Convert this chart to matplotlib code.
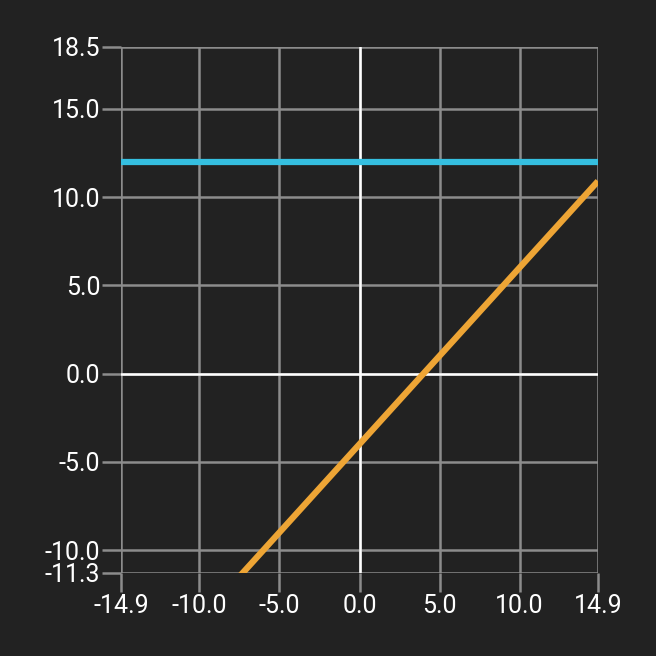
import matplotlib
matplotlib.use("Agg")
import matplotlib.pyplot as plt

# data
x_ticks = [-14.9, -10.0, -5.0, 0.0, 5.0, 10.0, 14.9]
y_ticks = [-11.3, -10.0, -5.0, 0.0, 5.0, 10.0, 15.0, 18.5]
blue_x = [-14.9, 14.9]
blue_y = [12.0, 12.0]
orange_x = [-14.9, 14.9]
orange_y = [-18.9, 10.9]

bg = "#222222"
grid_col = "#8c8c8c"

plt.rcParams['font.family'] = ['Roboto', 'DejaVu Sans']

fig = plt.figure(figsize=(6.56, 6.56), dpi=100, facecolor=bg)
ax = fig.add_axes([121/656, 83/656, 477/656, 526/656])
ax.set_facecolor(bg)

ax.set_xlim(-14.9, 14.9)
ax.set_ylim(-11.3, 18.5)
ax.set_xticks(x_ticks)
ax.set_yticks(y_ticks)
ax.set_xticklabels(["%.1f" % v for v in x_ticks])
ax.set_yticklabels(["%.1f" % v for v in y_ticks])

ax.grid(True, color=grid_col, linewidth=1.8, zorder=1)
for s in ax.spines.values():
    s.set_visible(False)
ax.tick_params(axis='both', colors=grid_col, width=1.8, length=14,
               labelcolor="white", labelsize=18, pad=1)

# zero axes in white
ax.axhline(0, color="white", linewidth=1.8, zorder=2)
ax.axvline(0, color="white", linewidth=1.8, zorder=2)

ax.plot(blue_x, blue_y, color="#35bfe0", linewidth=4.5, solid_capstyle='butt', zorder=3)
ax.plot(orange_x, orange_y, color="#eea535", linewidth=4.5, solid_capstyle='butt', zorder=3)

fig.savefig("out.png", dpi=100, facecolor=bg)
